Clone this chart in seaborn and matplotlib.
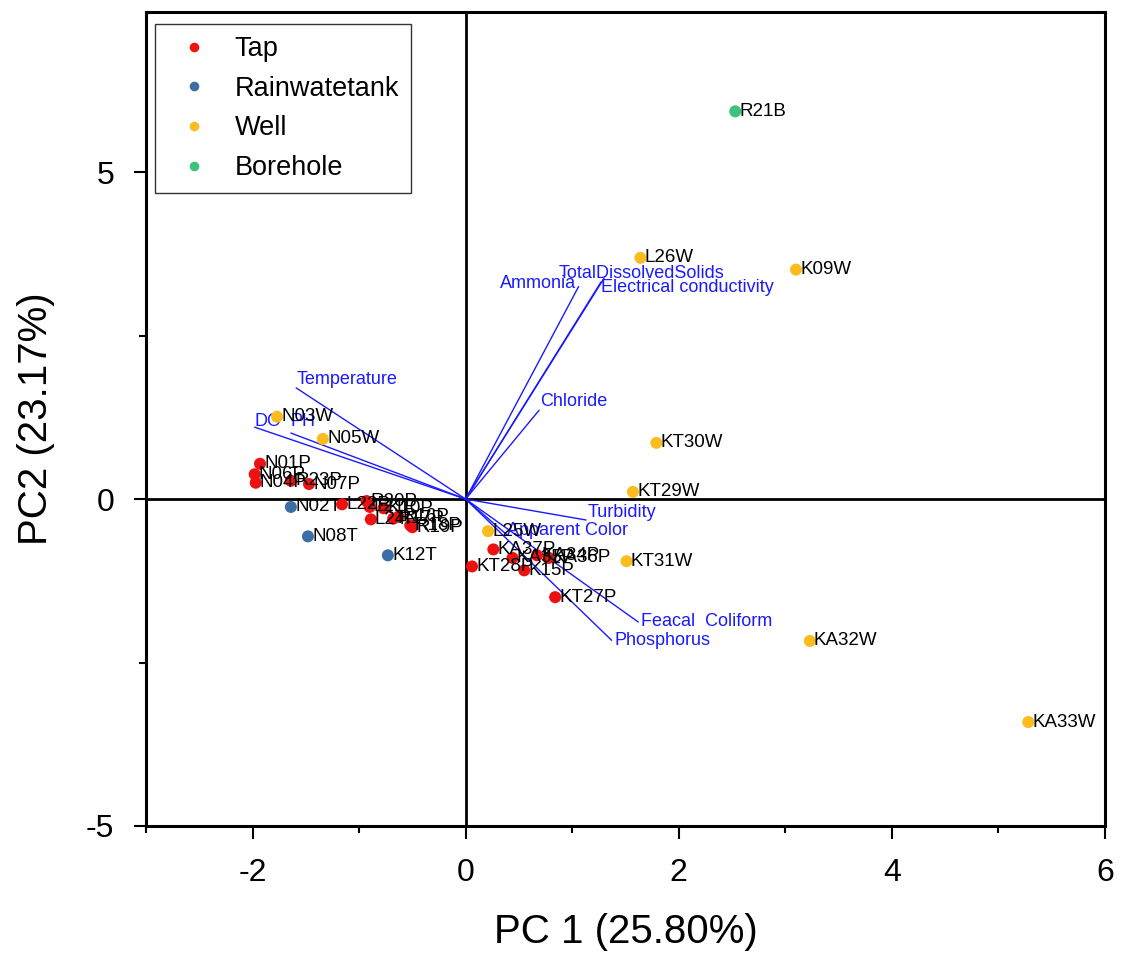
import matplotlib
matplotlib.use("Agg")
import matplotlib.pyplot as plt
import pandas as pd
import seaborn as sns

# scores
names = ["N01P", "N06P", "N04P", "R23P", "N07P", "L22P", "R20P", "L21P", "L24P",
         "K10P", "R17P", "R16P", "R18P", "R19P", "KA37P", "KA35P", "K15P", "KA34P",
         "KA36P", "KT28P", "KT27P",
         "N02T", "N08T", "K12T",
         "N03W", "N05W", "L26W", "K09W", "KT30W", "KT29W", "L25W", "KT31W", "KA32W", "KA33W",
         "R21B"]
pc1 = [-1.93, -1.98, -1.97, -1.64, -1.47, -1.16, -0.93, -0.90, -0.89,
       -0.77, -0.68, -0.63, -0.52, -0.50, 0.26, 0.44, 0.55, 0.67,
       0.78, 0.06, 0.84,
       -1.64, -1.48, -0.73,
       -1.77, -1.34, 1.64, 3.10, 1.79, 1.57, 0.21, 1.51, 3.23, 5.28,
       2.53]
pc2 = [0.54, 0.38, 0.25, 0.28, 0.23, -0.08, -0.03, -0.12, -0.31,
       -0.14, -0.30, -0.27, -0.40, -0.43, -0.77, -0.90, -1.09, -0.86,
       -0.90, -1.03, -1.50,
       -0.12, -0.57, -0.86,
       1.26, 0.92, 3.69, 3.51, 0.86, 0.11, -0.49, -0.95, -2.17, -3.41,
       5.93]
source = ["Tap"] * 21 + ["Rainwatetank"] * 3 + ["Well"] * 10 + ["Borehole"]

# loadings
var_names = ["Temperature", "DO", "PH", "Ammonia", "TotalDissolvedSolids",
             "Electrical conductivity", "Chloride", "Turbidity", "Apparent Color",
             "Feacal  Coliform", "Phosphorus"]
load1 = [-1.59, -1.98, -1.64, 1.06, 1.30, 1.27, 0.69, 1.13, 0.39, 1.62, 1.37]
load2 = [1.70, 1.10, 1.01, 3.25, 3.38, 3.32, 1.36, -0.32, -0.55, -1.88, -2.16]

df = pd.DataFrame({"name": names, "PC1": pc1, "PC2": pc2, "Source": source})
palette = {"Tap": "#ee1111", "Rainwatetank": "#3b6ea5", "Well": "#fbbd1e", "Borehole": "#3cc27a"}

sns.set_style("ticks")
plt.rcParams["font.family"] = ["Liberation Sans", "DejaVu Sans"]
plt.rcParams["axes.unicode_minus"] = False
plt.rcParams["text.color"] = "black"
plt.rcParams["axes.labelcolor"] = "black"
plt.rcParams["xtick.color"] = "black"
plt.rcParams["ytick.color"] = "black"
plt.rcParams["axes.edgecolor"] = "black"

fig = plt.figure(figsize=(11.28, 9.6), dpi=100)
ax = fig.add_axes([0.1294, 0.1396, 0.8502, 0.8479])

ax.axhline(0, color="black", lw=2, zorder=1)
ax.axvline(0, color="black", lw=2, zorder=1)

# label placement: (dx, dy in points, ha, va)
lab_pos = [(0, 0, "left", "bottom"), (0, -2, "left", "bottom"), (0, 2, "left", "bottom"),
           (-2, -4, "right", "bottom"), (-33, -3, "left", "bottom"), (0, 2, "left", "top"),
           (1, 0, "left", "bottom"), (1, -1, "left", "bottom"), (0, -3, "left", "bottom"),
           (2, 0, "left", "center"), (2, 0, "left", "center")]
for x, y, n, (dx, dy, ha, va) in zip(load1, load2, var_names, lab_pos):
    ax.plot([0, x], [0, y], color="#1a1aff", lw=1, zorder=2)
    ax.annotate(n, (x, y), xytext=(dx, dy), textcoords="offset points",
                ha=ha, va=va, color="#1a1aff", fontsize=13, zorder=3)

sns.scatterplot(data=df, x="PC1", y="PC2", hue="Source", palette=palette,
                s=75, linewidth=0, ax=ax, zorder=4)

for _, r in df.iterrows():
    ax.annotate(r["name"], (r["PC1"], r["PC2"]), xytext=(3, 0), textcoords="offset points",
                ha="left", va="center", fontsize=13.5, color="black", zorder=5)

ax.set_xlim(-3, 6)
ax.set_ylim(-5, 7.45)
ax.set_xticks([-2, 0, 2, 4, 6])
ax.set_xticks([-3, -1, 1, 3, 5], minor=True)
ax.set_yticks([-5, 0, 5])
ax.set_yticks([-2.5, 2.5], minor=True)
ax.tick_params(which="major", length=9, width=1.5, labelsize=23, pad=14)
ax.tick_params(which="minor", length=5, width=1.5)
for s in ax.spines.values():
    s.set_linewidth(2.2)
    s.set_visible(True)

ax.set_xlabel("PC 1 (25.80%)", fontsize=29, labelpad=18)
ax.set_ylabel("PC2 (23.17%)", fontsize=29, labelpad=22)

handles, labels = ax.get_legend_handles_labels()
leg = ax.legend(handles, labels, loc="upper left", bbox_to_anchor=(0.009, 0.985),
                borderaxespad=0, fontsize=19.5, markerscale=0.8, frameon=True,
                fancybox=False, edgecolor="#333333", framealpha=1,
                handletextpad=0.5, labelspacing=0.5, borderpad=0.45)
leg.get_frame().set_linewidth(1)

fig.savefig("out.png", dpi=100)
